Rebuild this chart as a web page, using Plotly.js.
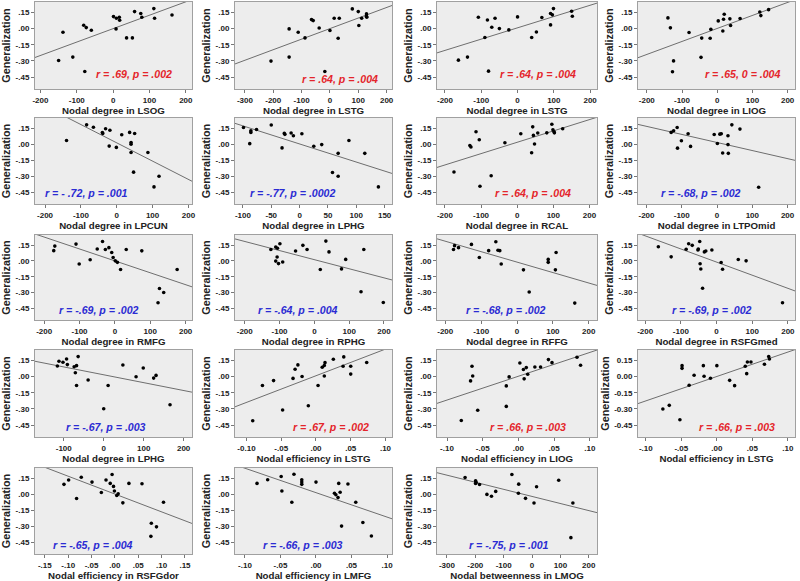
<!DOCTYPE html>
<html>
<head>
<meta charset="utf-8">
<script src="https://cdn.plot.ly/plotly-3.0.1.min.js"></script>
<style>
  html, body { margin: 0; padding: 0; background: #fff; }
  #chart { width: 800px; height: 581px; }
</style>
</head>
<body>
<div id="chart"></div>
<script>
// ---- data (x = network measure, y = generalization) ----
const lsogX = [-150,-138,-111,-81,-74,-78,-60,1,8,9,17,18,37,53,59,76,79,112,114,162];
const lsogY = [-0.296,-0.035,-0.265,0.03,0.008,-0.398,-0.016,0.11,-0.004,0.095,0.104,0.076,-0.087,-0.087,0.156,0.138,0.104,0.184,0.095,0.125];

const lstgAX = [-208,-144,-144,-112,-88,-65,-59,-38,-18,0,15,29,33,79,100,102,112,129,129,130];
const lstgAY = [-0.302,-0.004,-0.265,-0.035,-0.087,0.082,0.073,0.005,-0.398,-0.019,0.095,-0.09,0.095,0.181,0.156,0.027,0.095,0.135,0.113,0.104];

const lstgBX = [-163,-138,-108,-90,-83,-71,-62,-80,-50,-24,0,39,52,67,91,96,91,99,149,151];
const lstgBY = [-0.293,-0.265,0.104,-0.083,0.079,0.012,0.095,-0.395,-0.001,-0.013,0.107,-0.084,-0.032,0.101,0.138,0.126,0.033,0.184,0.159,0.113];

const liogX = [-140,-133,-124,-127,-80,-44,-46,-20,-18,3,16,18,20,36,38,65,121,124,146];
const liogY = [0.098,0.006,-0.30,-0.40,-0.037,-0.089,-0.267,-0.091,-0.008,0.07,-0.024,0.086,0.132,0.089,0.028,0.092,0.153,0.119,0.174];

const lpcunX = [-140,-84,-65,-31,-19,-40,-39,-21,-1,14,36,40,40,50,40,47,87,104,118];
const lpcunY = [0.035,0.181,0.159,0.144,0.131,0.109,0.1,-0.018,-0.03,0.088,0.11,0.015,0.0,0.1,-0.078,-0.262,-0.078,-0.40,-0.30];

const lphgAX = [-99,-88,-86,-86,-76,-50,-31,-27,-26,-15,-11,4,25,39,58,68,68,87,115,139];
const lphgAY = [0.156,0.005,0.125,0.11,0.137,0.18,-0.035,0.101,0.092,0.104,0.079,0.098,-0.019,-0.004,-0.265,-0.086,-0.30,0.035,-0.086,-0.40];

const rcalX = [-175,-131,-128,-114,-105,-103,-72,-34,10,40,43,45,48,57,82,96,99,102,103,126];
const rcalY = [-0.26,-0.012,-0.027,0.116,0.041,-0.394,-0.295,0.013,0.097,-0.08,0.162,0.082,0.001,0.104,0.106,0.187,0.134,0.116,0.106,0.144];

const ltpoX = [-130,-123,-113,-101,-112,-82,-75,-8,1,8,12,42,31,31,16,32,65,118];
const ltpoY = [0.11,0.125,0.156,0.032,-0.037,0.098,-0.021,0.091,0.007,0.094,0.098,0.181,0.079,-0.004,-0.083,-0.086,0.141,-0.403];

const rmfgX = [-173,-170,-110,-101,-70,-50,-35,-27,-17,-9,-5,1,7,16,32,76,176,122,126,138];
const rmfgY = [0.097,0.14,0.159,-0.03,0.01,0.113,0.184,0.107,0.125,0.079,0.032,0.0,-0.014,-0.082,0.107,0.095,-0.082,-0.397,-0.261,-0.30];

const rphgX = [-125,-111,-106,-99,-107,-111,-103,-91,-54,-33,-21,33,42,17,78,90,142,134,198];
const rphgY = [0.107,0.131,0.119,0.162,0.036,-0.002,-0.026,-0.011,0.094,0.147,0.107,0.187,0.085,-0.082,-0.076,0.014,0.107,-0.292,-0.394];

const rffgX = [-177,-174,-163,-127,-105,-79,-59,-53,-48,-44,18,87,87,107,109,34,161];
const rffgY = [0.107,0.144,0.125,0.156,0.032,0.097,0.181,0.1,0.097,-0.03,-0.085,0.014,-0.014,-0.085,0.079,-0.295,-0.40];

const rsfgmedX = [-163,-127,-85,-78,-68,-52,-51,-47,-46,-44,-39,-34,-30,-13,13,17,61,83,185];
const rsfgmedY = [0.134,0.038,0.11,0.162,0.147,0.103,0.113,0.184,-0.027,-0.077,-0.26,0.085,0.094,0.103,-0.015,-0.08,0.013,0.0,-0.397];

const lphgBX = [-116,-112,-102,-93,-91,-74,-71,-68,-64,-68,-39,0,11,48,81,99,125,131,166];
const lphgBY = [0.097,0.141,0.131,0.162,0.11,0.09,0.035,0.10,0.184,-0.083,-0.033,-0.298,-0.083,0.106,-0.002,0.079,-0.015,0.01,-0.262];

const effLstgAX = [-0.091,-0.077,-0.061,-0.048,-0.033,-0.030,-0.026,-0.020,-0.011,0.003,0.009,0.012,0.012,0.013,0.025,0.039,0.040,0.050,0.050,0.073];
const effLstgAY = [-0.41,-0.084,-0.038,-0.31,-0.018,0.067,0.107,0.0,-0.271,-0.083,0.085,0.101,0.005,0.128,0.159,0.095,0.181,0.095,0.022,0.129];

const effLiogX = [-0.080,-0.067,-0.065,-0.064,-0.057,-0.017,-0.017,-0.013,0.002,0.007,0.008,0.011,0.013,0.023,0.031,0.042,0.047,0.082,0.087];
const effLiogY = [-0.407,-0.041,0.095,0.005,-0.312,-0.087,-0.277,-0.004,0.125,0.064,-0.022,0.082,0.021,0.088,0.088,0.156,0.128,0.178,0.104];

const effLstgBX = [-0.076,-0.067,-0.049,-0.049,-0.052,-0.039,-0.032,-0.019,-0.018,-0.009,0.0,0.018,0.025,0.040,0.042,0.043,0.048,0.067,0.073,0.074];
const effLstgBY = [-0.301,-0.267,0.1,0.075,-0.401,-0.081,0.011,0.1,0.002,-0.017,0.1,-0.036,-0.085,0.094,0.026,0.134,0.134,0.113,0.184,0.162];

const effRsfgdorX = [-0.109,-0.099,-0.082,-0.072,-0.049,-0.029,-0.019,-0.010,-0.006,-0.003,-0.001,0.004,0.007,0.017,0.030,0.058,0.104,0.077,0.078,0.089];
const effRsfgdorY = [0.092,0.132,-0.041,0.159,0.113,0.015,0.132,0.101,0.184,0.073,0.03,-0.012,0.003,-0.081,0.101,0.098,-0.075,-0.395,-0.272,-0.306];

const effLmfgX = [-0.083,-0.068,-0.049,-0.048,-0.034,-0.031,-0.020,-0.020,-0.020,0.000,0.026,0.028,0.031,0.032,0.034,0.036,0.045,0.056,0.066,0.078];
const effLmfgY = [0.101,0.135,0.165,0.03,-0.075,0.187,0.135,0.113,0.092,0.113,0.009,-0.006,-0.032,0.101,0.018,-0.299,0.095,-0.075,-0.265,-0.392];

const btwLmogX = [-236,-199,-197,-199,-185,-159,-143,-128,-71,-48,-47,-23,7,16,94,144,137];
const btwLmogY = [0.156,0.125,0.11,0.1,0.091,-0.002,-0.02,0.026,0.184,0.008,0.094,-0.039,-0.082,0.069,0.131,-0.082,-0.407];

// labels
const xTitles = ['Nodal degree in LSOG','Nodal degree in LSTG','Nodal degree in LSTG','Nodal degree in LIOG',
  'Nodal degree in LPCUN','Nodal degree in LPHG','Nodal degree in RCAL','Nodal degree in LTPOmid',
  'Nodal degree in RMFG','Nodal degree in RPHG','Nodal degree in RFFG','Nodal degree in RSFGmed',
  'Nodal degree in LPHG','Nodal efficiency in LSTG','Nodal efficiency in LIOG','Nodal efficiency in LSTG',
  'Nodal efficiency in RSFGdor','Nodal efficiency in LMFG','Nodal betweenness in LMOG'];
const statLabels = ['r = .69, p = .002','r = .64, p = .004','r = .64, p = .004','r = .65, 0 = .004',
  'r = - .72, p = .001','r = -.77, p = .0002','r = .64, p = .004','r = -.68, p = .002',
  'r = -.69, p = .002','r = -.64, p = .004','r = -.68, p = .002','r = -.69, p = .002',
  'r = -.67, p = .003','r = .67, p = .002','r = .66, p = .003','r = .66, p = .003',
  'r = -.65, p = .004','r = -.66, p = .003','r = -.75, p = .001'];

const yTickVals = [0.15, 0, -0.15, -0.30, -0.45];
const yTickText = ['.15', '.00', '-.15', '-.30', '-.45'];
const yTickTextLong = ['0.15', '0.00', '-0.15', '-0.30', '-0.45'];

const degTicks = [-200, -100, 0, 100, 200];
const degTicksWide = [-300, -200, -100, 0, 100, 200];
const degTicksLphg = [-100, -50, 0, 50, 100, 150];
const degTicksLphgB = [-100, 0, 100, 200];
const effTicks = [-0.10, -0.05, 0, 0.05, 0.10];
const effTickText = ['-.10', '-.05', '.00', '.05', '.10'];
const effTickTextA = ['-0.10', '-.05', '.00', '.05', '.10'];
const effTicksWide = [-0.15, -0.10, -0.05, 0, 0.05, 0.10, 0.15];
const effTickTextWide = ['-.15', '-.10', '-.05', '.00', '.05', '.10', '.15'];

// panel setup (axis ranges, tick sets, label positions)
const panels = [
  {x: lsogX, y: lsogY, range: [-215, 217], ticks: degTicks, lx: 0.63},
  {x: lstgAX, y: lstgAY, range: [-335, 219], ticks: degTicksWide, lx: 0.67, ly: 0.11},
  {x: lstgBX, y: lstgBY, range: [-222, 219], ticks: degTicks, lx: 0.63},
  {x: liogX, y: liogY, range: [-225, 221], ticks: degTicks, lx: 0.67},
  {x: lpcunX, y: lpcunY, range: [-228, 210], ticks: degTicks, lx: 0.33},
  {x: lphgAX, y: lphgAY, range: [-114, 163], ticks: degTicksLphg, lx: 0.37},
  {x: rcalX, y: rcalY, range: [-222, 221], ticks: degTicks, lx: 0.60},
  {x: ltpoX, y: ltpoY, range: [-224, 221], ticks: degTicks, lx: 0.40},
  {x: rmfgX, y: rmfgY, range: [-226, 218], ticks: degTicks, lx: 0.41},
  {x: rphgX, y: rphgY, range: [-228, 223], ticks: degTicks, lx: 0.40},
  {x: rffgX, y: rffgY, range: [-223, 223], ticks: degTicks, lx: 0.43},
  {x: rsfgmedX, y: rsfgmedY, range: [-220, 220], ticks: degTicks, lx: 0.47},
  {x: lphgBX, y: lphgBY, range: [-172, 221], ticks: degTicksLphgB, lx: 0.45},
  {x: effLstgAX, y: effLstgAY, range: [-0.1165, 0.1094], ticks: effTicks, text: effTickTextA, lx: 0.61},
  {x: effLiogX, y: effLiogY, range: [-0.114, 0.11], ticks: effTicks, text: effTickText, lx: 0.57},
  {x: effLstgBX, y: effLstgBY, range: [-0.111, 0.110], ticks: effTicks, text: effTickText, lx: 0.63, longY: true},
  {x: effRsfgdorX, y: effRsfgdorY, range: [-0.171, 0.165], ticks: effTicksWide, text: effTickTextWide, lx: 0.37},
  {x: effLmfgX, y: effLmfgY, range: [-0.114, 0.107], ticks: effTicks, text: effTickText, lx: 0.43},
  {x: btwLmogX, y: btwLmogY, range: [-335, 229], ticks: degTicksWide, lx: 0.45}
];

const colPx = [[35, 192], [235, 392], [437, 597], [638, 795]];
const rowPx = [[2, 89], [118, 204], [235, 320], [350, 437], [468, 554]];
const rowLabelY = [0.17, 0.13, 0.12, 0.12, 0.11];
const W = 800, H = 581;
const yRange = [-0.56, 0.245];

const red = '#e4252b';
const blue = '#2b2bd3';
const fontFam = 'Arial, "Liberation Sans", sans-serif';

// least squares fit line
function fitLine(xs, ys) {
  const n = xs.length;
  const mx = xs.reduce((a, b) => a + b, 0) / n;
  const my = ys.reduce((a, b) => a + b, 0) / n;
  let sxy = 0, sxx = 0;
  for (let i = 0; i < n; i++) {
    sxy += (xs[i] - mx) * (ys[i] - my);
    sxx += (xs[i] - mx) * (xs[i] - mx);
  }
  const b = sxy / sxx;
  return {a: my - b * mx, b: b};
}

const traces = [];
const layout = {
  width: W, height: H,
  margin: {l: 0, r: 0, t: 0, b: 0},
  paper_bgcolor: '#ffffff',
  plot_bgcolor: '#ededed',
  showlegend: false,
  annotations: [],
  shapes: []
};

panels.forEach(function(p, i) {
  const row = Math.floor(i / 4), col = i % 4;
  const n = i + 1;
  const xid = n === 1 ? 'x' : 'x' + n;
  const yid = n === 1 ? 'y' : 'y' + n;
  const fit = fitLine(p.x, p.y);
  const positive = fit.b > 0;

  // fit line across the whole axis
  traces.push({
    x: p.range, y: p.range.map(v => fit.a + fit.b * v),
    xaxis: xid, yaxis: yid, type: 'scatter', mode: 'lines',
    line: {color: '#6e6e6e', width: 1}, hoverinfo: 'skip'
  });
  traces.push({
    x: p.x, y: p.y, xaxis: xid, yaxis: yid, type: 'scatter', mode: 'markers',
    marker: {color: '#000', size: 3.6}
  });

  layout['xaxis' + (n === 1 ? '' : n)] = {
    domain: [colPx[col][0] / W, colPx[col][1] / W],
    anchor: yid, range: p.range,
    tickvals: p.ticks, ticktext: p.text || p.ticks.map(String),
    ticks: 'outside', ticklen: 3, tickcolor: '#777',
    showgrid: false, zeroline: false,
    showline: true, mirror: true, linecolor: '#a0a0a0', linewidth: 1,
    tickfont: {family: fontFam, size: 8, color: '#222', weight: 'bold'},
    title: {text: xTitles[i], standoff: 2,
            font: {family: fontFam, size: 9.7, color: '#222', weight: 'bold'}}
  };
  layout['yaxis' + (n === 1 ? '' : n)] = {
    domain: [1 - rowPx[row][1] / H, 1 - rowPx[row][0] / H],
    anchor: xid, range: yRange,
    tickvals: yTickVals, ticktext: p.longY ? yTickTextLong : yTickText,
    ticks: 'outside', ticklen: 3, tickcolor: '#777',
    showgrid: false, zeroline: false,
    showline: true, mirror: true, linecolor: '#a0a0a0', linewidth: 1,
    tickfont: {family: fontFam, size: 8, color: '#222', weight: 'bold'},
    title: {text: 'Generalization', standoff: 2,
            font: {family: fontFam, size: 10.8, color: '#222', weight: 'bold'}}
  };
  layout.annotations.push({
    xref: xid + ' domain', yref: yid + ' domain',
    x: p.lx, y: p.ly || rowLabelY[row], xanchor: 'center', yanchor: 'middle',
    text: '<b><i>' + statLabels[i] + '</i></b>', showarrow: false,
    font: {family: fontFam, size: 10.6, color: positive ? red : blue}
  });
  layout.shapes.push({
    type: 'rect', layer: 'below',
    xref: xid + ' domain', yref: yid + ' domain',
    x0: 0, x1: 1, y0: 0, y1: 1, fillcolor: '#ededed', line: {width: 0}
  });
});

Plotly.newPlot('chart', traces, layout, {displayModeBar: false, staticPlot: true});
</script>
</body>
</html>
